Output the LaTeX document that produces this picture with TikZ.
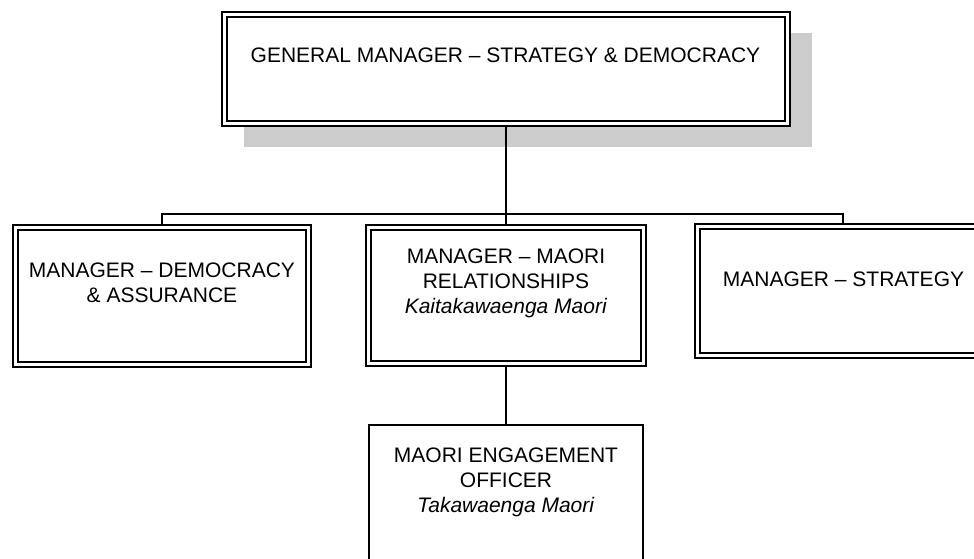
\documentclass[tikz,border=0pt]{standalone}
\usepackage{fontspec}
\setmainfont{Liberation Sans}
\usetikzlibrary{shadows}
\definecolor{shadowgray}{HTML}{CCCCCC}
\tikzset{
  boxbase/.style={draw=black, line width=2pt, fill=white, inner sep=0pt, outer sep=0pt},
  innerline/.style={draw=black, line width=1.4pt},
  conn/.style={draw=black, line width=2pt},
  lbl/.style={font=\fontsize{21}{25}\selectfont, align=center, inner sep=0pt, anchor=north},
}
\begin{document}
\begin{tikzpicture}[x=1pt, y=-1pt]
\useasboundingbox (0,0) rectangle (974,558);
\clip (0,0) rectangle (974,558);
% boxes
\node[boxbase, minimum width=568pt, minimum height=114pt,
      drop shadow={shadow xshift=22pt, shadow yshift=-21pt, fill=shadowgray, opacity=1}] (gm) at (506,69) {};
\node[boxbase, minimum width=298pt, minimum height=142pt] (dem) at (162,296) {};
\node[boxbase, minimum width=280pt, minimum height=141pt] (mr) at (506,295.5) {};
\node[boxbase, minimum width=296pt, minimum height=134pt] (str) at (843,291) {};
\node[boxbase, minimum width=274pt, minimum height=170pt] (eng) at (506,510) {};
% inner lines of the double borders
\foreach \n in {gm,dem,mr,str}
  \draw[innerline] ([xshift=5pt,yshift=-5pt]\n.north west) rectangle ([xshift=-5pt,yshift=5pt]\n.south east);
% texts
\node[lbl] (gmt) at (505.5,48) {GENERAL MANAGER -- STRATEGY \& DEMOCRACY};
\node[lbl] (demt) at (162,263) {MANAGER -- DEMOCRACY\\\& ASSURANCE};
\node[lbl] (mrt) at (506,249) {MANAGER -- MAORI\\RELATIONSHIPS\\\textit{Kaitakawaenga Maori}};
\node[lbl] (strt) at (843.5,272) {MANAGER -- STRATEGY};
\node[lbl] (engt) at (506,448) {MAORI ENGAGEMENT\\OFFICER\\\textit{Takawaenga Maori}};
% connectors
\coordinate (bus) at (506,214);
\draw[conn] (gm.south) -- (gm.south |- bus);
\draw[conn] (dem.north) -- (dem.north |- bus) -- (str.north |- bus) -- (str.north);
\draw[conn] (mr.north) -- (mr.north |- bus);
\draw[conn] (mr.south) -- (eng.north);
\end{tikzpicture}
\end{document}
